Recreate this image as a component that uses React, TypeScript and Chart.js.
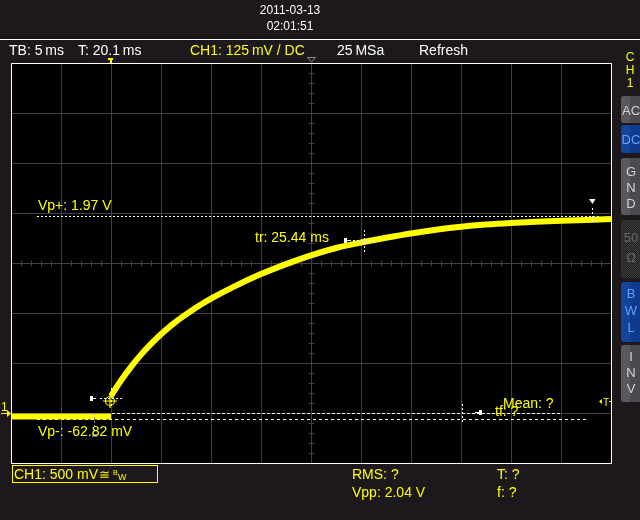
import React, { useEffect, useRef } from "react";
import { Chart, registerables } from "chart.js";

Chart.register(...registerables);

// ---- data (time in ms, voltage in V) ----
const baselineTime = [-10, 0];
const baselineVolt = [-0.035, -0.035];
const riseTime = [0, 1, 2, 3, 4, 5, 6, 7, 8, 9, 10, 12.5, 15, 17.5, 20, 22.5, 25, 27.5, 30, 32.5, 35, 37.5, 40, 42.5, 45, 47.5, 50];
const riseVolt = [0.17, 0.325, 0.462, 0.584, 0.692, 0.788, 0.874, 0.951, 1.021, 1.085, 1.144, 1.274, 1.389, 1.489, 1.577, 1.65, 1.705, 1.752, 1.795, 1.832, 1.862, 1.884, 1.9, 1.912, 1.922, 1.931, 1.94];

const timeMin = -10;
const timeMax = 50;
const timeStep = 5;
const voltMin = -0.5;
const voltMax = 3.5;
const voltStep = 0.5;

const vpPlus = 1.97;
const vpMinus = -0.06282;
const zeroLevel = 0;
const trStartMs = 0;
const trStartVolt = 0.15;
const trEndMs = 25.3;
const trEndVolt = 1.73;
const tfCursorMs = 35.1;
const vpPlusCursorMs = 48.1;
const vpMinusCursorMs = -1.7;
const triggerMs = 0;
const centerMs = 20;
const centerVolt = 1.5;

const headerTexts = ["TB: 5\u2009ms", "T: 20.1\u2009ms", "CH1: 125\u2009mV / DC", "25\u2009MSa", "Refresh"];
const dateText = "2011-03-13";
const timeText = "02:01:51";
const measureLabels = ["Vp+: 1.97 V", "tr: 25.44 ms", "Vp-: -62.82 mV", "Mean: ?", "tf: ?"];
const footerLabels = ["CH1: 500 mV", "RMS: ?", "Vpp: 2.04 V", "T: ?", "f: ?"];

const BG = "#1c181b";
const GRID = "#404040";
const YEL = "#ffff00";
const FONT = "'Liberation Sans', Arial, sans-serif";

function txt(ctx: CanvasRenderingContext2D, s: string, x: number, y: number, color: string, size = 14, align: CanvasTextAlign = "left") {
  ctx.font = `${size}px ${FONT}`;
  ctx.fillStyle = color;
  ctx.textAlign = align;
  ctx.textBaseline = "alphabetic";
  ctx.fillText(s, x, y);
}

function dashH(ctx: CanvasRenderingContext2D, x0: number, x1: number, y: number, dash: number[], color = "#ffffff") {
  ctx.save();
  ctx.strokeStyle = color;
  ctx.lineWidth = 1;
  ctx.setLineDash(dash);
  ctx.beginPath();
  const yy = Math.round(y) + 0.5;
  ctx.moveTo(x0, yy);
  ctx.lineTo(x1, yy);
  ctx.stroke();
  ctx.restore();
}

function dashV(ctx: CanvasRenderingContext2D, x: number, y0: number, y1: number, dash: number[], color = "#ffffff") {
  ctx.save();
  ctx.strokeStyle = color;
  ctx.lineWidth = 1;
  ctx.setLineDash(dash);
  ctx.beginPath();
  const xx = Math.round(x) + 0.5;
  ctx.moveTo(xx, y0);
  ctx.lineTo(xx, y1);
  ctx.stroke();
  ctx.restore();
}

function button(ctx: CanvasRenderingContext2D, y0: number, y1: number, kind: string, letters: string[], baselines: number[]) {
  const x0 = 621;
  const w = 22;
  ctx.save();
  ctx.beginPath();
  (ctx as any).roundRect(x0, y0, w, y1 - y0, 3);
  ctx.clip();
  if (kind === "gray") {
    ctx.fillStyle = "#4c4a4e";
    ctx.fillRect(x0, y0, w, y1 - y0);
    ctx.fillStyle = "#5a585c";
    ctx.fillRect(x0, y0, 9, y1 - y0);
  } else if (kind === "blue") {
    ctx.fillStyle = "#0f3a8e";
    ctx.fillRect(x0, y0, w, y1 - y0);
    ctx.fillStyle = "#14449c";
    ctx.fillRect(x0, y0, 9, y1 - y0);
  } else {
    ctx.fillStyle = "#242424";
    ctx.fillRect(x0, y0, w, y1 - y0);
    ctx.fillStyle = "#3a3a3a";
    for (let yy = y0; yy < y1; yy++) {
      for (let xx = x0 + ((yy + x0) % 2); xx < x0 + w; xx += 2) ctx.fillRect(xx, yy, 1, 1);
    }
  }
  ctx.restore();
  const color = kind === "gray" ? "#d2d2d2" : kind === "blue" ? "#5fa2ff" : "#6a6a6a";
  letters.forEach((l, i) => txt(ctx, l, 631, baselines[i], color, 13, "center"));
}

const scopePlugin = {
  id: "scope",
  beforeDraw(chart: any) {
    const { ctx, chartArea: a } = chart;
    ctx.save();
    ctx.fillStyle = BG;
    ctx.fillRect(0, 0, chart.width, chart.height);
    ctx.fillStyle = "#000000";
    ctx.fillRect(a.left, a.top, a.right - a.left, a.bottom - a.top);
    ctx.restore();
  },
  beforeDatasetsDraw(chart: any) {
    const { ctx, scales } = chart;
    const xs = scales.x;
    const ys = scales.y;
    ctx.save();
    ctx.strokeStyle = GRID;
    ctx.lineWidth = 1;
    const cx = Math.round(xs.getPixelForValue(centerMs)) + 0.5;
    const cy = Math.round(ys.getPixelForValue(centerVolt)) + 0.5;
    ctx.beginPath();
    for (let v = voltMin; v <= voltMax + 1e-6; v += 0.1) {
      const y = Math.round(ys.getPixelForValue(v)) + 0.5;
      ctx.moveTo(cx - 3, y);
      ctx.lineTo(cx + 3, y);
    }
    for (let t = timeMin; t <= timeMax + 1e-6; t += 1) {
      const x = Math.round(xs.getPixelForValue(t)) + 0.5;
      ctx.moveTo(x, cy - 3);
      ctx.lineTo(x, cy + 3);
    }
    ctx.stroke();
    ctx.restore();

    // measurement level lines
    dashH(ctx, 37, 600, ys.getPixelForValue(vpPlus), [2, 2]);
    dashH(ctx, xs.getPixelForValue(trStartMs) + 1, 561, ys.getPixelForValue(zeroLevel), [3, 2]);
    dashH(ctx, 37, 586, ys.getPixelForValue(vpMinus), [3, 3]);
  },
  afterDraw(chart: any) {
    const { ctx, chartArea: a, scales } = chart;
    const xs = scales.x;
    const ys = scales.y;
    ctx.save();

    // plot border
    ctx.strokeStyle = "#ffffff";
    ctx.lineWidth = 1;
    ctx.strokeRect(a.left + 0.5, a.top + 0.5, a.right - a.left, a.bottom - a.top);

    // header
    ctx.beginPath();
    ctx.moveTo(0, 39.5);
    ctx.lineTo(640, 39.5);
    ctx.stroke();
    txt(ctx, dateText, 290, 14, "#ffffff", 12, "center");
    txt(ctx, timeText, 290, 30, "#ffffff", 12, "center");
    const hx = [9, 78, 190, 337, 419];
    headerTexts.forEach((s, i) => txt(ctx, s, hx[i], 55, i === 2 ? YEL : "#ffffff", 14));

    // trigger markers on top
    const tx = Math.round(xs.getPixelForValue(triggerMs));
    ctx.fillStyle = YEL;
    ctx.fillRect(tx - 3, 58, 5, 2);
    ctx.fillRect(tx - 1, 60, 2, 3);
    const gx = Math.round(xs.getPixelForValue(centerMs)) + 0.5;
    ctx.strokeStyle = "#8a8a8a";
    ctx.beginPath();
    ctx.moveTo(gx - 4, 57.5);
    ctx.lineTo(gx + 4, 57.5);
    ctx.lineTo(gx, 62);
    ctx.closePath();
    ctx.stroke();

    // channel 1 ground marker
    const zy = Math.round(ys.getPixelForValue(zeroLevel));
    txt(ctx, "1", 1, zy - 2, YEL, 12);
    ctx.fillStyle = YEL;
    ctx.fillRect(1, zy, 7, 1);
    ctx.beginPath();
    ctx.moveTo(7, zy - 3);
    ctx.lineTo(11, zy + 0.5);
    ctx.lineTo(7, zy + 4);
    ctx.closePath();
    ctx.fill();

    // right trigger level marker
    ctx.beginPath();
    ctx.moveTo(599, 401.5);
    ctx.lineTo(602, 399);
    ctx.lineTo(602, 404);
    ctx.closePath();
    ctx.fill();
    txt(ctx, "T", 603, 406, YEL, 10);
    ctx.fillRect(609, 401, 2, 1);

    // tr start cursor
    const sx = xs.getPixelForValue(trStartMs);
    const sy = ys.getPixelForValue(trStartVolt);
    dashV(ctx, sx, sy - 10, sy + 10, [2, 2]);
    dashH(ctx, sx - 11, sx + 11, sy, [2, 2]);
    ctx.fillStyle = "#ffffff";
    ctx.fillRect(sx - 21, Math.round(sy) - 2, 3, 5);
    ctx.fillRect(sx - 18, Math.round(sy), 3, 1);
    // yellow crosshair
    ctx.strokeStyle = YEL;
    ctx.lineWidth = 1.2;
    ctx.beginPath();
    ctx.arc(sx - 1, sy + 3, 4.5, 0, Math.PI * 2);
    ctx.moveTo(sx - 8, sy + 3);
    ctx.lineTo(sx + 6, sy + 3);
    ctx.moveTo(sx - 1, sy - 3);
    ctx.lineTo(sx - 1, sy + 10);
    ctx.stroke();

    // tr end cursor
    const ex = xs.getPixelForValue(trEndMs);
    const ey = ys.getPixelForValue(trEndVolt);
    dashV(ctx, ex, ey - 10, ey + 12, [2, 2]);
    dashH(ctx, ex - 11, ex + 11, ey, [2, 2]);
    ctx.fillStyle = "#ffffff";
    ctx.fillRect(ex - 20, Math.round(ey) - 2, 3, 5);
    ctx.fillRect(ex - 17, Math.round(ey), 4, 1);

    // tf cursor
    const fx = xs.getPixelForValue(tfCursorMs);
    dashV(ctx, fx, zy - 9, zy + 11, [2, 2]);
    ctx.fillRect(fx + 13, zy - 1, 4, 1);
    ctx.fillRect(fx + 17, zy - 3, 3, 5);

    // Vp+ cursor
    const px = xs.getPixelForValue(vpPlusCursorMs);
    const py = ys.getPixelForValue(vpPlus);
    ctx.beginPath();
    ctx.moveTo(px - 3, py - 17);
    ctx.lineTo(px + 3.5, py - 17);
    ctx.lineTo(px + 0.5, py - 12);
    ctx.closePath();
    ctx.fill();
    dashV(ctx, px, py - 8, py + 7, [2, 2]);

    // Vp- cursor
    const mx = xs.getPixelForValue(vpMinusCursorMs);
    dashV(ctx, mx, zy, zy + 20, [2, 2], "#9a9a9a");
    ctx.fillStyle = "#6a6a6a";
    ctx.fillRect(Math.round(mx) - 2, zy + 21, 5, 3);

    // measurement labels
    txt(ctx, measureLabels[0], 38, 210, YEL);
    txt(ctx, measureLabels[1], 255, 242, YEL);
    txt(ctx, measureLabels[2], 38, 436, YEL);
    txt(ctx, measureLabels[3], 503, 408, YEL);
    txt(ctx, measureLabels[4], 495, 416, YEL);

    // footer
    ctx.strokeStyle = YEL;
    ctx.lineWidth = 1;
    ctx.strokeRect(12.5, 465.5, 145, 17);
    txt(ctx, footerLabels[0], 14, 479, YEL);
    txt(ctx, "\u2245", 99, 479, YEL, 13);
    txt(ctx, "B", 113, 475, YEL, 7);
    txt(ctx, "W", 118, 480, YEL, 9);
    txt(ctx, footerLabels[1], 352, 479, YEL);
    txt(ctx, footerLabels[2], 352, 497, YEL);
    txt(ctx, footerLabels[3], 497, 479, YEL);
    txt(ctx, footerLabels[4], 497, 497, YEL);

    // side panel
    txt(ctx, "C", 630, 61, YEL, 12, "center");
    txt(ctx, "H", 630, 74, YEL, 12, "center");
    txt(ctx, "1", 630, 87, YEL, 12, "center");
    button(ctx, 96, 123, "gray", ["AC"], [115]);
    button(ctx, 125, 153, "blue", ["DC"], [144]);
    button(ctx, 158, 215, "gray", ["G", "N", "D"], [176, 192, 208]);
    button(ctx, 220, 278, "hatch", ["50", "\u03a9"], [242, 262]);
    button(ctx, 282, 342, "blue", ["B", "W", "L"], [298, 315, 332]);
    button(ctx, 345, 402, "gray", ["I", "N", "V"], [361, 377, 393]);

    ctx.restore();
  },
};

export default function App() {
  const ref = useRef<HTMLCanvasElement | null>(null);
  useEffect(() => {
    if (!ref.current) return;
    const chart = new Chart(ref.current, {
      type: "line",
      data: {
        datasets: [
          {
            data: baselineTime.map((t, i) => ({ x: t, y: baselineVolt[i] })),
            borderColor: YEL,
            borderWidth: 6,
            pointRadius: 0,
            tension: 0,
            clip: 0,
          },
          {
            data: riseTime.map((t, i) => ({ x: t, y: riseVolt[i] })),
            borderColor: YEL,
            borderWidth: 6,
            pointRadius: 0,
            cubicInterpolationMode: "monotone",
            clip: 0,
          },
        ],
      } as any,
      options: {
        responsive: false,
        animation: false,
        devicePixelRatio: 1,
        events: [],
        layout: { padding: { left: 11, top: 63, right: 29, bottom: 57 } },
        plugins: { legend: { display: false }, tooltip: { enabled: false } },
        scales: {
          x: {
            type: "linear",
            min: timeMin,
            max: timeMax,
            ticks: { display: false, stepSize: timeStep },
            grid: { color: GRID, lineWidth: 1, drawTicks: false },
            border: { display: false },
            afterFit: (s: any) => {
              s.height = 0;
            },
          },
          y: {
            type: "linear",
            min: voltMin,
            max: voltMax,
            ticks: { display: false, stepSize: voltStep },
            grid: { color: GRID, lineWidth: 1, drawTicks: false },
            border: { display: false },
            afterFit: (s: any) => {
              s.width = 0;
            },
          },
        },
      } as any,
      plugins: [scopePlugin],
    });
    return () => chart.destroy();
  }, []);
  return (
    <div style={{ position: "absolute", left: 0, top: 0, width: 640, height: 520, background: BG }}>
      <canvas ref={ref} width={640} height={520} style={{ display: "block" }} />
    </div>
  );
}
